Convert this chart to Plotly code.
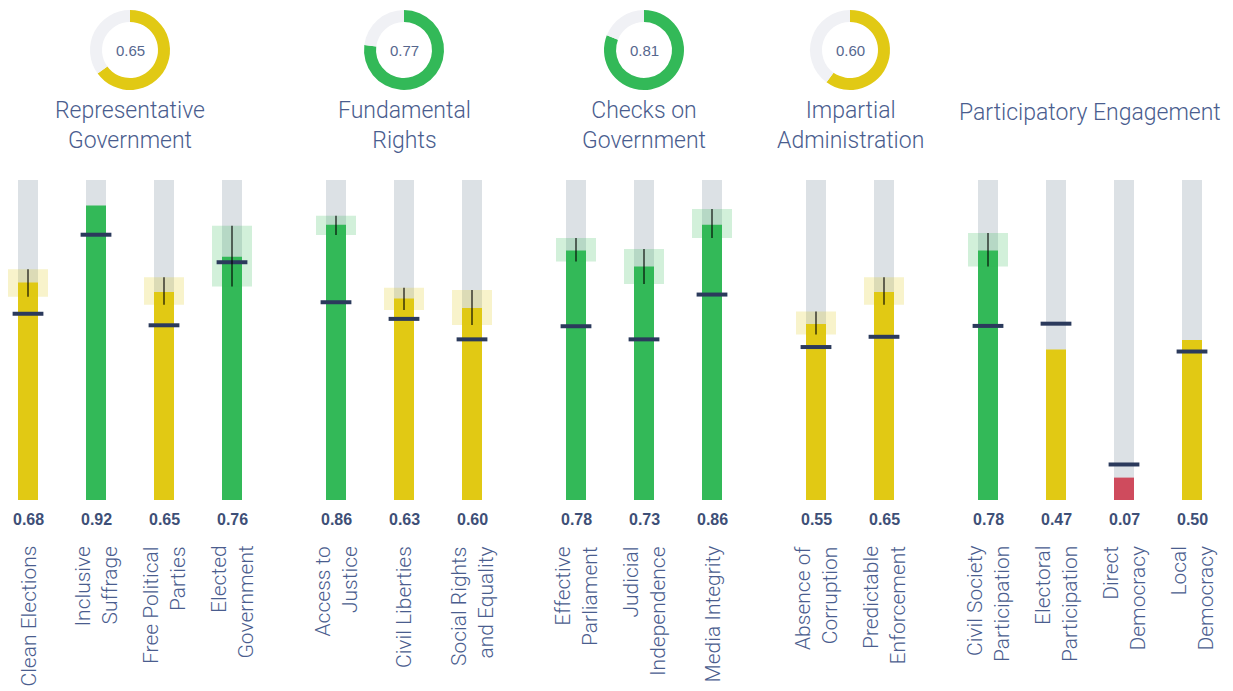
import plotly.graph_objects as go

# ---------------- data ----------------
group_titles = [
    "Representative<br>Government",
    "Fundamental<br>Rights",
    "Checks on<br>Government",
    "Impartial<br>Administration",
    "Participatory Engagement",
]
group_scores = [0.65, 0.77, 0.81, 0.60, None]

categories = [
    "Clean Elections", "Inclusive<br>Suffrage", "Free Political<br>Parties", "Elected<br>Government",
    "Access to<br>Justice", "Civil Liberties", "Social Rights<br>and Equality",
    "Effective<br>Parliament", "Judicial<br>Independence", "Media Integrity",
    "Absence of<br>Corruption", "Predictable<br>Enforcement",
    "Civil Society<br>Participation", "Electoral<br>Participation", "Direct<br>Democracy", "Local<br>Democracy",
]
category_group = [0, 0, 0, 0, 1, 1, 1, 2, 2, 2, 3, 3, 4, 4, 4, 4]
values = [0.68, 0.92, 0.65, 0.76, 0.86, 0.63, 0.60, 0.78, 0.73, 0.86, 0.55, 0.65, 0.78, 0.47, 0.07, 0.50]
reference = [0.582, 0.829, 0.546, 0.743, 0.618, 0.566, 0.502, 0.543, 0.502, 0.642, 0.478, 0.510, 0.544, 0.551, 0.111, 0.464]
ci_low = [0.635, None, 0.610, 0.667, 0.828, 0.594, 0.547, 0.745, 0.675, 0.819, 0.517, 0.610, 0.730, None, None, None]
ci_high = [0.721, None, 0.696, 0.857, 0.888, 0.663, 0.656, 0.819, 0.784, 0.909, 0.589, 0.696, 0.834, None, None, None]

# ---------------- style ----------------
W, H = 1233, 691
YELLOW = "#e1c914"
GREEN = "#33b958"
RED = "#cf4b5d"
GREY = "#dce1e5"
RING_GREY = "#f0f1f5"
NAVY = "#2b3a5c"
TEXT = "#4a5d8e"
VALUE_TEXT = "#3e4f77"
LIGHT_FONT = "Roboto"

def color_for(v):
    if v >= 0.7:
        return GREEN
    if v >= 0.4:
        return YELLOW
    return RED

def rgba(hex_color, a):
    h = hex_color.lstrip("#")
    r, g, b = int(h[0:2], 16), int(h[2:4], 16), int(h[4:6], 16)
    return f"rgba({r},{g},{b},{a})"

GAP = 36 / 68
xs = [i + g * GAP for i, g in enumerate(category_group)]
X_MIN, X_MAX = -28 / 68, (W - 28) / 68
# y: value 0 at pixel 500, value 1 at pixel 180
Y_MIN, Y_MAX = -(H - 500) / 320, 500 / 320

def ypx(px):
    return (500 - px) / 320

def xpaper(x):
    return (x - X_MIN) / (X_MAX - X_MIN)

colors = [color_for(v) for v in values]

fig = go.Figure()

# background tracks
fig.add_trace(go.Bar(x=xs, y=[1] * len(xs), width=20 / 68, marker=dict(color=GREY, line=dict(width=0)),
                     hoverinfo="skip"))
# value bars
fig.add_trace(go.Bar(x=xs, y=values, width=20 / 68, marker=dict(color=colors, line=dict(width=0)),
                     hoverinfo="skip"))
# confidence boxes
ci_idx = [i for i in range(len(xs)) if ci_low[i] is not None]
fig.add_trace(go.Bar(
    x=[xs[i] for i in ci_idx],
    base=[ci_low[i] for i in ci_idx],
    y=[ci_high[i] - ci_low[i] for i in ci_idx],
    width=40 / 68,
    marker=dict(color=[rgba(colors[i], 0.22) for i in ci_idx], line=dict(width=0)),
    hoverinfo="skip"))
# reference markers
fig.add_trace(go.Scatter(x=xs, y=reference, mode="markers",
                         marker=dict(symbol="line-ew", size=22, line=dict(width=4, color=NAVY)),
                         hoverinfo="skip"))
# confidence lines
fig.add_trace(go.Scatter(
    x=[xs[i] for i in ci_idx], y=[values[i] for i in ci_idx], mode="markers",
    marker=dict(size=1, opacity=0),
    error_y=dict(type="data", symmetric=False,
                 array=[ci_high[i] - values[i] for i in ci_idx],
                 arrayminus=[values[i] - ci_low[i] for i in ci_idx],
                 width=0, thickness=1.5, color="rgba(0,0,0,0.75)"),
    hoverinfo="skip"))

annotations = []
# value labels and category labels
for i, x in enumerate(xs):
    annotations.append(dict(x=x, y=ypx(519), xref="x", yref="y", text=f"<b>{values[i]:.2f}</b>",
                            showarrow=False, xanchor="center", yanchor="middle",
                            font=dict(family="Liberation Sans, Arial", size=16, color=VALUE_TEXT)))
    annotations.append(dict(x=x, y=ypx(544), xref="x", yref="y", text=categories[i],
                            showarrow=False, xanchor="center", yanchor="top", textangle=-90, align="right",
                            font=dict(family=LIGHT_FONT, size=21, color=TEXT, weight=300)))

# group titles and donuts
for g, title in enumerate(group_titles):
    gx = [xs[i] for i in range(len(xs)) if category_group[i] == g]
    cx = sum(gx) / len(gx)
    two_lines = "<br>" in title
    annotations.append(dict(x=cx, y=ypx(125 if two_lines else 112), xref="x", yref="y", text=title,
                            showarrow=False, xanchor="center", yanchor="middle", align="center",
                            borderpad=0,
                            font=dict(family=LIGHT_FONT, size=23, color=TEXT, weight=300)))
    s = group_scores[g]
    if s is not None:
        cxp = xpaper(cx)
        rx = 40 / W
        fig.add_trace(go.Pie(
            values=[s, 1 - s], sort=False, direction="clockwise", rotation=0, hole=0.7,
            marker=dict(colors=[color_for(s), RING_GREY], line=dict(width=0)),
            textinfo="none", hoverinfo="skip", showlegend=False,
            domain=dict(x=[cxp - rx, cxp + rx], y=[1 - 90 / H, 1 - 10 / H])))
        annotations.append(dict(x=cx, y=ypx(50), xref="x", yref="y", text=f"{s:.2f}",
                                showarrow=False, xanchor="center", yanchor="middle",
                                font=dict(family="Liberation Sans, Arial", size=15, color="#56678e")))

fig.update_layout(
    width=W, height=H,
    margin=dict(l=0, r=0, t=0, b=0),
    barmode="overlay",
    showlegend=False,
    paper_bgcolor="white",
    plot_bgcolor="white",
    xaxis=dict(range=[X_MIN, X_MAX], visible=False, fixedrange=True),
    yaxis=dict(range=[Y_MIN, Y_MAX], visible=False, fixedrange=True),
    annotations=annotations,
)

fig.write_html("out.html", config={"displayModeBar": False})
